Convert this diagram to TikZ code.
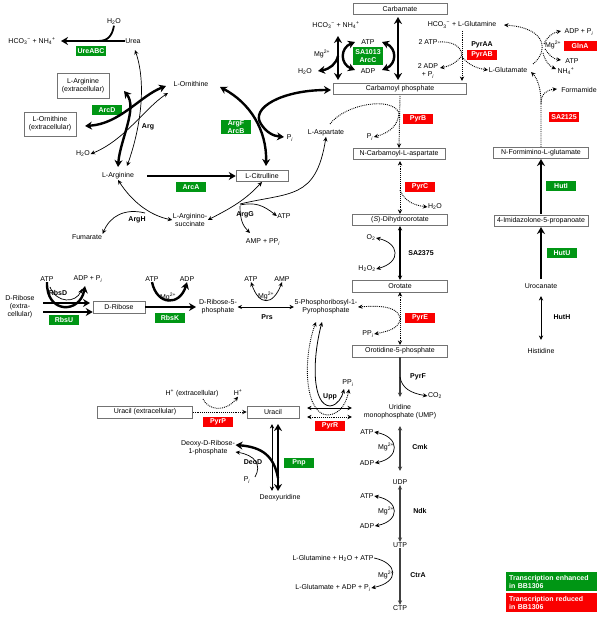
\documentclass[tikz,border=0pt]{standalone}
\usepackage{fontspec}
\setmainfont{Liberation Sans}
\usetikzlibrary{arrows.meta}
\newcommand\sbs[1]{\textsubscript{#1}}
\newcommand\sps[1]{\textsuperscript{#1}}
\newcommand\ssp[2]{\textsubscript{#1}\textsuperscript{#2}}
\newcommand\Pii{P\textsubscript{\textit{i}}}
\definecolor{eg}{RGB}{0,150,20}
\definecolor{er}{RGB}{250,0,0}
\tikzset{
 myA/.tip={Stealth[length=4.5pt,width=4.2pt]},
 myB/.tip={Stealth[length=7pt,width=8pt]},
 ar/.style={line width=0.7pt,-myA},
 arb/.style={line width=0.7pt,myA-myA},
 tk/.style={line width=2.4pt,-myB},
 tkb/.style={line width=2.4pt,myB-myB},
 dt/.style={line width=0.9pt,dash pattern=on 0.9pt off 1pt,-myA},
 dtb/.style={line width=0.9pt,dash pattern=on 0.9pt off 1pt,myA-myA},
 gy/.style={line width=1.4pt,draw=black!75,-myA},
 gyb/.style={line width=1.4pt,draw=black!75,myA-myA},
 bx/.style={draw=black!55,fill=white,line width=0.5pt,minimum height=11.5pt,inner sep=1pt},
 grn/.style={fill=eg,text=white,font=\fontsize{7}{8}\selectfont\bfseries,minimum height=9.5pt,minimum width=30pt,inner sep=1pt},
 rd/.style={fill=er,text=white,font=\fontsize{7}{8}\selectfont\bfseries,minimum height=9.5pt,minimum width=30pt,inner sep=1pt},
 en/.style={font=\fontsize{7}{8}\selectfont\bfseries},
}
\begin{document}
\begin{tikzpicture}[x=1pt,y=-1pt,every node/.style={font=\fontsize{7}{8}\selectfont,inner sep=0.5pt,align=center}]
\useasboundingbox (0,0) rectangle (600,617);
\fill[white] (0,0) rectangle (600,617);

% ---------- Urea / Arg region
\node (h2oU) at (114,22) {H\sbs{2}O};
\node (hco3a) at (32,41) {HCO\ssp{3}{−} + NH\ssp{4}{+}};
\node (urea) at (133,41) {Urea};
\node[grn] (ureabc) at (91,51) {UreABC};
\draw[tk] (urea.west) -- (61,41);
\draw[line width=1.8pt] (h2oU.south) .. controls (112,36) and (108,41) .. (98,41);

\node[bx,minimum width=52pt,minimum height=25pt] (argext) at (83,86) {L-Arginine\\(extracellular)};
\node[bx,minimum width=52pt,minimum height=24pt] (ornext) at (50,124) {L-Ornithine\\(extracellular)};
\node[grn] (arcd) at (107,110) {ArcD};
\node[en] (arg) at (148,127) {Arg};
\node (h2oA) at (83,154) {H\sbs{2}O};
\node (larg) at (118,176) {L-Arginine};
\node (lorn) at (191,84) {L-Ornithine};

\draw[arb] (127,166) .. controls (140,130) and (147,85) .. (135,50);
\draw[arb] (h2oA.east) .. controls (125,140) and (145,108) .. (168,93);
\draw[tkb] (124,91) .. controls (138,108) and (120,140) .. (118,167);
\draw[tkb] (85,126) .. controls (120,124) and (140,96) .. (166,86);

% ---------- ArcA / ArgF
\node[bx,minimum width=52pt] (lcit) at (262,176) {L-Citrulline};
\node[grn] (arca) at (191,187) {ArcA};
\draw[tk] (147,176) -- (lcit.west);
\node[grn] (argf) at (236,127) {ArgF\\ArcB};
\node (pi1) at (290,138) {\Pii};
\node (lasp) at (326,133) {L-Aspartate};
\draw[tkb] (220,87) .. controls (250,103) and (267,130) .. (266,166);
\draw[tkb] (331,90) .. controls (282,90) and (250,108) .. (261,124) .. controls (266,132) and (273,136) .. (284,137);

% ---------- ArcC
\node[bx,minimum width=94pt] (carbamate) at (400,9) {Carbamate};
\node (hco3b) at (336,25) {HCO\ssp{3}{−} + NH\ssp{4}{+}};
\node (mg1) at (322,54) {Mg\sps{2+}};
\node (h2oB) at (305,72) {H\sbs{2}O};
\node (atp1) at (368,42) {ATP};
\node[grn,minimum height=18pt] (arcc) at (368,56) {SA1013\\ArcC};
\node (adp1) at (368,71) {ADP};
\node[bx,minimum width=133pt] (carbp) at (400,89) {Carbamoyl phosphate};
\draw[tkb] (338,36) -- (338,80);
\draw[tkb] (398,17) -- (398,80);
\draw[tk] (338,56) .. controls (336,64) and (330,69) .. (318,71);
\draw[tkb] (355,42) .. controls (340,48) and (340,64) .. (355,70);
\draw[tkb] (382,42) .. controls (397,48) and (397,64) .. (382,70);

% ---------- PyrAA/PyrAB
\node (hco3gln) at (462,25) {HCO\ssp{3}{−} + L-Glutamine};
\node (atp2) at (428,42) {2 ATP};
\node (adp2) at (428,71) {2 ADP\\+ \Pii};
\node[en] (pyraa) at (482,45) {PyrAA};
\node[rd] (pyrab) at (482,55) {PyrAB};
\node (lglu) at (508,70) {L-Glutamate};
\draw[dt] (462,31) -- (462,81);
\draw[dt] (atp2.east) .. controls (452,41) and (461,46) .. (462,55) .. controls (458,62) and (450,66) .. (440,68);
\draw[dt] (462,57) .. controls (468,64) and (475,68) .. (lglu.west);

% ---------- GlnA
\node (mg3) at (553,45) {Mg\sps{2+}};
\node[rd,minimum width=33pt] (glna) at (580,46) {GlnA};
\node (adppi3) at (579,32) {ADP + \Pii};
\node (atp3) at (572,61) {ATP};
\node (nh4) at (566,71) {NH\sbs{4}\sps{+}};
\draw[dt] (533,64) .. controls (548,52) and (548,28) .. (504,25);
\draw[dt] (544,44) .. controls (547,37) and (552,33) .. (561,31);
\draw[dt] (545,49) .. controls (549,55) and (553,59) .. (561,60);
\draw[dt] (543,53) .. controls (545,61) and (549,66) .. (556,69);

% ---------- SA2125 / Hut
\node (formamide) at (579,90) {Formamide};
\node[rd] (sa2125) at (564,117) {SA2125};
\node[bx,minimum width=95pt] (nfig) at (541,153) {N-Formimino-L-glutamate};
\draw[dt] (nfig.north) -- (541,102) .. controls (541,88) and (537,78) .. (531,72);
\draw[dt] (541,104) .. controls (541,94) and (546,90) .. (557,89);
\node[grn] (huti) at (561,186) {HutI};
\node[bx,minimum width=94pt] (imid) at (541,221) {4-Imidazolone-5-propanoate};
\draw[tk] (541,214) -- (nfig.south);
\node[grn] (hutu) at (562,253) {HutU};
\node (uroc) at (541,286) {Urocanate};
\draw[tk] (541,279) -- (imid.south);
\node[en] (huth) at (562,317) {HutH};
\node (his) at (541,351) {Histidine};
\draw[arb] (541,296) -- (541,340);

% ---------- PyrB / PyrC
\node[rd] (pyrb) at (418,119) {PyrB};
\node (pi2) at (370,137) {\Pii};
\node[bx,minimum width=92pt] (ncarb) at (399,154) {N-Carbamoyl-L-aspartate};
\draw[dt] (400,96) -- (ncarb.north);
\draw[dt] (330,124) .. controls (345,104) and (392,96) .. (399,113) .. controls (398,124) and (392,132) .. (pi2.east);
\node[rd] (pyrc) at (420,187) {PyrC};
\node (h2oC) at (435,207) {H\sbs{2}O};
\node[bx,minimum width=95pt] (dho) at (400,220) {(\textit{S})-Dihydroorotate};
\draw[dtb] (400,161) -- (dho.north);
\draw[dt] (400,190) .. controls (404,200) and (412,205) .. (h2oC.west);

% ---------- SA2375
\node[en] (sa2375) at (421,253) {SA2375};
\node (o2) at (371,238) {O\sbs{2}};
\node (h2o2) at (367,269) {H\sbs{2}O\sbs{2}};
\node[bx,minimum width=95pt] (orot) at (400,286) {Orotate};
\draw[line width=1.1pt,myA-myA] (dho.south) -- (orot.north);
\draw[arb] (o2.east) .. controls (399,243) and (402,262) .. (h2o2.east);

% ---------- PyrE
\node[rd] (pyre) at (420,318) {PyrE};
\node (prpp) at (326,307) {5-Phosphoribosyl-1-\\Pyrophosphate};
\node (ppi1) at (368,334) {PP\sbs{\textit{i}}};
\node[bx,minimum width=95pt] (orotd) at (400,351) {Orotidine-5-phosphate};
\draw[dtb] (orot.south) -- (orotd.north);
\draw[dt] (400,318) .. controls (398,308) and (385,305) .. (prpp.east);
\draw[dt] (400,320) .. controls (398,328) and (390,331) .. (ppi1.east);

% ---------- PyrF, Cmk, Ndk, CtrA
\node[en] (pyrf) at (418,377) {PyrF};
\node (co2) at (435,396) {CO\sbs{2}};
\node (ump) at (400,412) {Uridine\\monophosphate (UMP)};
\draw[gy] (orotd.south) -- (400,397);
\draw[ar] (400,377) .. controls (402,388) and (410,393) .. (co2.west);

\node[en] (cmk) at (420,447) {Cmk};
\node (atp4) at (367,432) {ATP};
\node (adp4) at (367,463) {ADP};
\node (mg4) at (386,447) {Mg\sps{2+}};
\node (udp) at (400,482) {UDP};
\draw[gyb] (400,426) -- (400,471);
\draw[arb] (atp4.east) .. controls (400,437) and (400,458) .. (adp4.east);

\node[en] (ndk) at (420,511) {Ndk};
\node (atp5) at (367,496) {ATP};
\node (adp5) at (367,526) {ADP};
\node (mg5) at (386,511) {Mg\sps{2+}};
\node (utp) at (400,545) {UTP};
\draw[gyb] (udp.south) -- (utp.north);
\draw[arb] (atp5.east) .. controls (400,501) and (400,521) .. (adp5.east);

\node[en] (ctra) at (418,575) {CtrA};
\node (mg6) at (386,575) {Mg\sps{2+}};
\node (glnh) at (333,558) {L-Glutamine + H\sbs{2}O + ATP};
\node (gluadp) at (333,588) {L-Glutamate + ADP + \Pii};
\node (ctp) at (400,608) {CTP};
\draw[gy] (utp.south) -- (ctp.north);
\draw[ar] (glnh.east) .. controls (398,563) and (400,582) .. (gluadp.east);

% ---------- ArgH / ArgG
\node[en] (argh) at (137,220) {ArgH};
\node (argsucc) at (190,220) {L-Arginino-\\succinate};
\node (fum) at (87,237) {Fumarate};
\node[en] (argg) at (245,215) {ArgG};
\node (atp6) at (284,216) {ATP};
\node (amp6) at (263,242) {AMP + PP\sbs{\textit{i}}};
\draw[arb] (argsucc.west) .. controls (148,215) and (131,200) .. (larg.south);
\draw[ar] (145,213) .. controls (125,208) and (110,216) .. (fum.north east);
\draw[arb] (lcit.south) .. controls (245,200) and (233,207) .. (argsucc.east);
\draw[ar] (240,204) .. controls (290,192) and (316,200) .. (lasp.south);
\draw[ar] (240,205) .. controls (255,202) and (263,205) .. (atp6.west);
\draw[ar] (240,206) .. controls (240,220) and (243,226) .. (250,233);

% ---------- Ribose
\node (atp7) at (47,279) {ATP};
\node (adppi7) at (88,279) {ADP + \Pii};
\node[en] (rbsd) at (58,293) {RbsD};
\node (drext) at (20,307) {D-Ribose\\(extra-\\cellular)};
\node[grn] (rbsu) at (64,320) {RbsU};
\node[bx,minimum width=52pt] (dribose) at (119,307) {D-Ribose};
\draw[tk] (43,303) -- (90,303);
\draw[tk] (43,312) -- (dribose.west |- 0,312);
\draw[line width=2.4pt,-myB] (atp7.south) .. controls (46,314) and (80,314) .. (85,286);
\draw[ar] (50,287) .. controls (57,304) and (76,303) .. (82,289);

\node (atp8) at (152,279) {ATP};
\node (adp8) at (187,279) {ADP};
\node (mg8) at (168,297) {Mg\sps{2+}};
\node[grn] (rbsk) at (170,318) {RbsK};
\node (dr5p) at (218,307) {D-Ribose-5-\\phosphate};
\draw[tk] (dribose.east) -- (196,307);
\draw[tk] (atp8.south) .. controls (157,306) and (180,306) .. (adp8.south);

\node (atp9) at (251,279) {ATP};
\node (amp9) at (282,279) {AMP};
\node (mg9) at (266,296) {Mg\sps{2+}};
\node[en] (prs) at (267,317) {Prs};
\draw[arb] (dr5p.east) -- (prpp.west |- 0,307);
\draw[arb] (atp9.south) .. controls (259,306) and (273,306) .. (amp9.south);

% ---------- Uracil
\node[bx,minimum width=95pt] (uraext) at (145,412) {Uracil (extracellular)};
\node (hext) at (192,393) {H\sps{+} (extracellular)};
\node (hplus) at (238,393) {H\sps{+}};
\node[rd] (pyrp) at (218,422) {PyrP};
\node[bx,minimum width=52pt] (uracil) at (273,412) {Uracil};
\draw[dt] (uraext.east) -- (uracil.west);
\draw[dt] (203,399) .. controls (208,410) and (225,413) .. (hplus.south);

\node[en] (upp) at (330,397) {Upp};
\node (ppi2) at (348,383) {PP\sbs{\textit{i}}};
\node[rd] (pyrr) at (330,426) {PyrR};
\draw[arb] (307,408) -- (352,408);
\draw[dtb] (307,417) -- (352,417);
\draw[line width=0.8pt,myA-myA] (322,322) .. controls (312,360) and (312,405) .. (330,406) .. controls (338,405) and (342,397) .. (344,389);
\draw[line width=0.9pt,dash pattern=on 0.9pt off 1pt,myA-myA] (316,322) .. controls (302,360) and (305,415) .. (328,415) .. controls (342,414) and (347,400) .. (349,389);

% ---------- Deoxyuridine
\node (dr1p) at (208,448) {Deoxy-D-Ribose-\\1-phosphate};
\node[en] (deod) at (253,462) {DeoD};
\node (pi3) at (247,480) {\Pii};
\node (deoxyu) at (280,498) {Deoxyuridine};
\node[grn] (pnp) at (299,463) {Pnp};
\draw[arb] (272,424) -- (272,491);
\draw[tkb] (278,424) -- (278,491);
\draw[line width=2.4pt,-myB] (278,478) .. controls (274,456) and (262,447) .. (dr1p.east |- 0,445);
\draw[ar] (255,477) .. controls (262,465) and (255,455) .. (dr1p.east |- 0,452);

% ---------- Legend
\node[fill=eg,text=white,font=\fontsize{7}{8}\selectfont\bfseries,anchor=north west,minimum width=91pt,minimum height=18pt,text width=85pt,inner sep=3pt,align=left] (leg1) at (506,572) {Transcription enhanced\\in BB1306};
\node[fill=er,text=white,font=\fontsize{7}{8}\selectfont\bfseries,anchor=north west,minimum width=91pt,minimum height=18pt,text width=85pt,inner sep=3pt,align=left] (leg2) at (506,593) {Transcription reduced\\in BB1306};
\end{tikzpicture}
\end{document}
